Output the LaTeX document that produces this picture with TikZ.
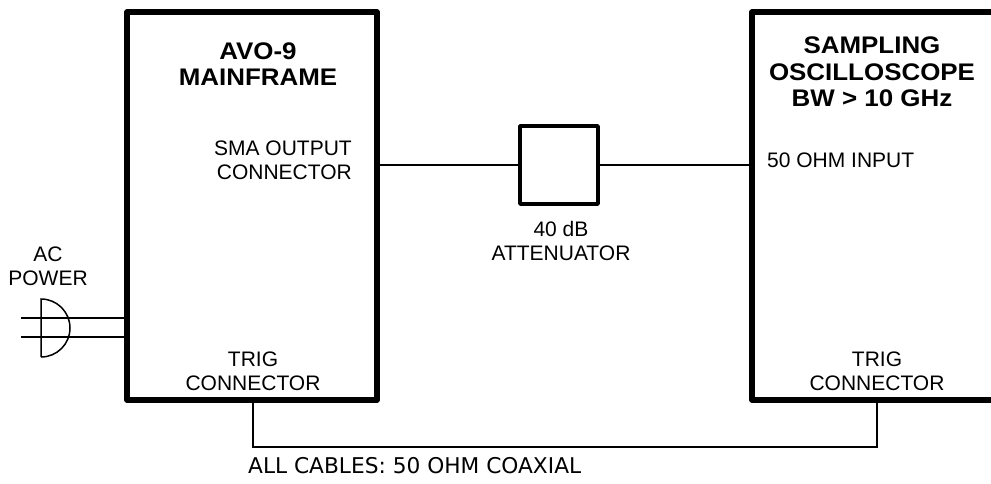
\documentclass[tikz,border=0pt]{standalone}
\usepackage{fontspec}
\setmainfont{Liberation Sans}
\newfontfamily\titlefont[FakeStretch=1.08]{Liberation Sans}
\newfontfamily\notefont{DejaVu Sans}
\usetikzlibrary{positioning}
\tikzset{
    unit/.style={draw,line width=5.5pt,line join=round,inner sep=0pt,outer sep=0pt,minimum width=#1,minimum height=388pt},
    pad/.style={draw,line width=3.5pt,line join=round,inner sep=0pt,outer sep=0pt,minimum size=78pt},
    cable/.style={line width=1.5pt},
    title/.style={align=center,inner sep=0pt,font=\titlefont\bfseries\fontsize{24}{26.5}\selectfont},
    label/.style={align=center,inner sep=0pt,font=\fontsize{21}{24}\selectfont},
}
\begin{document}
\begin{tikzpicture}[x=1pt,y=-1pt]
    \clip (0,0) rectangle (991,483);
    \node[unit=250pt] (mainframe) at (252,206) {};
    \node[unit=260pt] (scope) at (882,206) {};
    \node[pad] (atten) at (559,165) {};
    % texts
    \node[title] (avo) at (258,64) {AVO-9\\MAINFRAME};
    \node[title] (samp) at (872,72) {SAMPLING\\OSCILLOSCOPE\\BW > 10 GHz};
    \node[label,align=right,anchor=east] (sma) at (352,160) {SMA OUTPUT\\CONNECTOR};
    \node[label,anchor=west] (input) at (767,160) {50 OHM INPUT};
    \node[label] (db) at (561,241) {40 dB\\ATTENUATOR};
    \node[label] (ac) at (48,266) {AC\\POWER};
    \node[label] (trigL) at (253,371) {TRIG\\CONNECTOR};
    \node[label] (trigR) at (877,371) {TRIG\\CONNECTOR};
    \node[inner sep=0pt,anchor=west,font=\notefont\fontsize{21.7}{24}\selectfont] (note) at (248,466) {ALL CABLES: 50 OHM COAXIAL};
    % cables
    \draw[cable] (atten.west -| mainframe.east) -- (atten.west);
    \draw[cable] (atten.east) -- (atten.east -| scope.west);
    \draw[cable] (trigL |- mainframe.south) -- ++(0,47) -| (trigR |- scope.south);
    % power plug
    \coordinate (live) at (21,318);
    \coordinate (neutral) at (21,337);
    \draw[cable] (live) -- (live -| mainframe.west);
    \draw[cable] (neutral) -- (neutral -| mainframe.west);
    \draw[cable] (41,357) -- (41,299) arc[start angle=90,end angle=-90,radius=29pt];
\end{tikzpicture}
\end{document}
